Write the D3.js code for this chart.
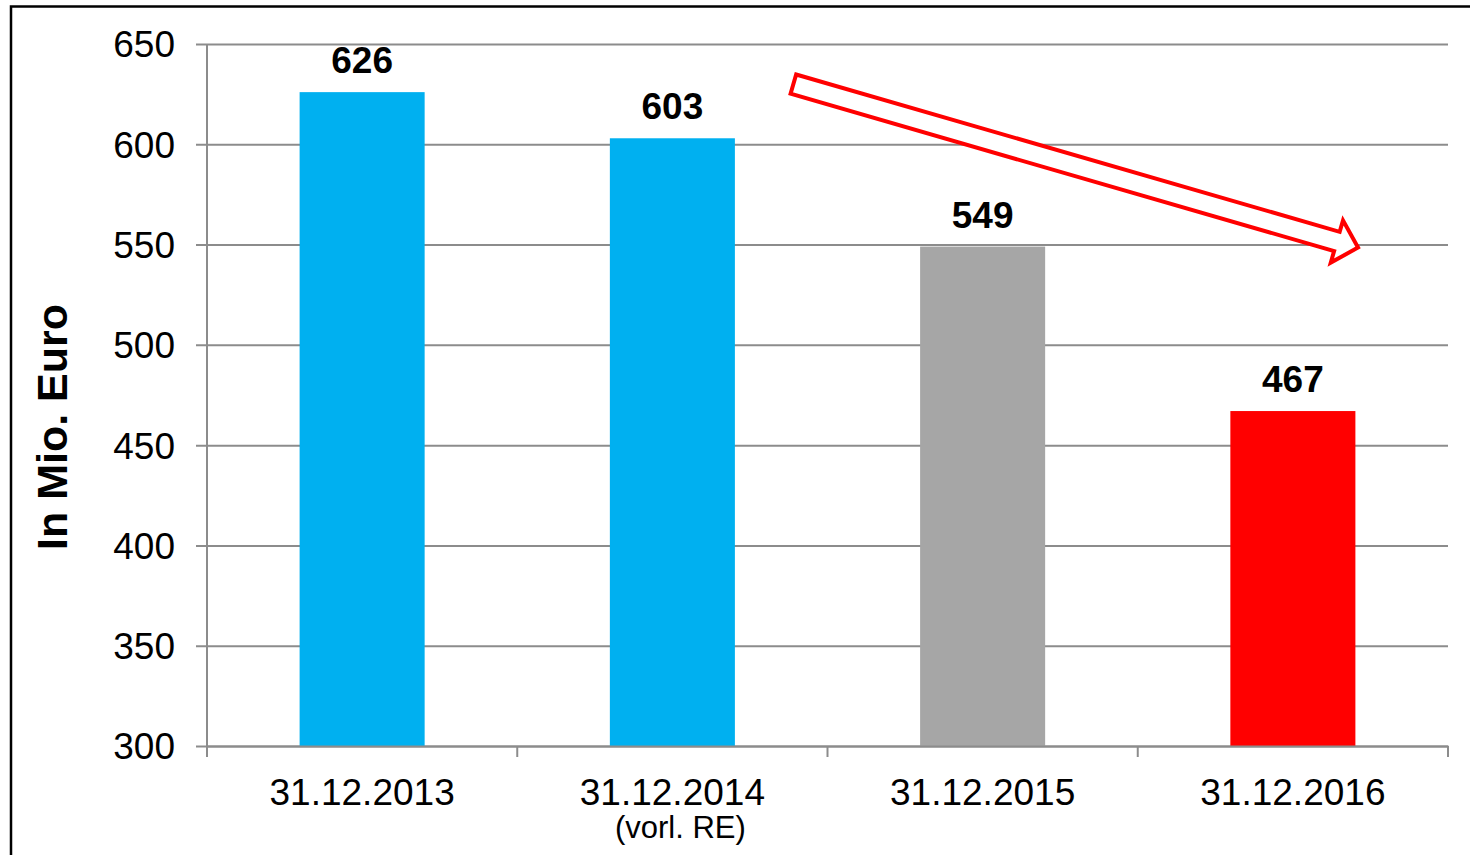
<!DOCTYPE html>
<html>
<head>
<meta charset="utf-8">
<script src="https://cdn.jsdelivr.net/npm/d3@7"></script>
<style>
  body { margin: 0; background: #fff; }
  svg { display: block; font-family: "Liberation Sans", Arial, sans-serif; }
</style>
</head>
<body>
<div id="chart"></div>
<script>
//-- Data --//
var categories = ["31.12.2013", "31.12.2014", "31.12.2015", "31.12.2016"],
    subLabels = ["", "(vorl. RE)", "", ""],
    values = [626, 603, 549, 467],
    barColors = ["#00b0f0", "#00b0f0", "#a6a6a6", "#ff0000"],
    yTicks = [300, 350, 400, 450, 500, 550, 600, 650];

// trend arrow, given as [category index, value] for tail and tip
var arrowFrom = [1.39, 630],
    arrowTo = [3.21, 548.5];

//-- Setup --//
var W = 1470, H = 855;
var margin = {top: 44, right: 22, bottom: 109, left: 207},
    width = W - margin.left - margin.right,
    height = H - margin.top - margin.bottom;

var svg = d3.select("#chart").append("svg")
  .attr("width", W)
  .attr("height", H);

// outer frame (runs off the right and bottom edge)
svg.append("rect")
  .attr("x", 11).attr("y", 6.5)
  .attr("width", W + 20).attr("height", H + 20)
  .attr("fill", "none")
  .attr("stroke", "#000")
  .attr("stroke-width", 2.5);

var g = svg.append("g")
  .attr("transform", "translate(" + margin.left + "," + margin.top + ")");

//-- Scales --//
var xScale = d3.scaleBand().domain(categories).range([0, width]).padding(0),
    yScale = d3.scaleLinear().domain([300, 650]).range([height, 0]),
    // category index -> centre of band, for the annotation arrow
    xIdx = d3.scaleLinear().domain([0, 1]).range([xScale.bandwidth() / 2, xScale.bandwidth() * 1.5]);

var barW = xScale.bandwidth() * 0.403;

//-- Gridlines + y axis --//
var yAxis = d3.axisLeft(yScale).tickValues(yTicks).tickSize(-width).tickPadding(32);
var ya = g.append("g").attr("class", "y axis").call(yAxis);
ya.select(".domain").remove();
ya.selectAll(".tick line")
  .attr("x1", -11)
  .attr("stroke", "#8c8c8c")
  .attr("stroke-width", 2);
ya.selectAll(".tick text")
  .attr("fill", "#000")
  .style("font-size", "37px")
  .attr("dy", "0.35em");

g.append("line")
  .attr("x1", 0).attr("x2", 0)
  .attr("y1", 0).attr("y2", height)
  .attr("stroke", "#8c8c8c").attr("stroke-width", 2);

//-- Bars --//
g.selectAll(".bar")
  .data(values)
  .enter().append("rect")
  .attr("class", "bar")
  .attr("x", function(d, i) { return xScale(categories[i]) + (xScale.bandwidth() - barW) / 2; })
  .attr("width", barW)
  .attr("y", function(d) { return yScale(d); })
  .attr("height", function(d) { return height - yScale(d); })
  .attr("fill", function(d, i) { return barColors[i]; });

//-- x axis --//
var xAxis = d3.axisBottom(xScale).tickSize(0).tickFormat("");
var xa = g.append("g")
  .attr("class", "x axis")
  .attr("transform", "translate(0," + height + ")")
  .call(xAxis);
xa.select(".domain").attr("stroke", "#8c8c8c").attr("stroke-width", 2);

// boundary ticks between categories
var bounds = categories.map(function(c) { return xScale(c); }).concat([width]);
xa.selectAll(".bound")
  .data(bounds)
  .enter().append("line")
  .attr("x1", function(d) { return d; }).attr("x2", function(d) { return d; })
  .attr("y1", 0).attr("y2", 11)
  .attr("stroke", "#8c8c8c").attr("stroke-width", 2);

xa.selectAll(".cat")
  .data(categories)
  .enter().append("text")
  .attr("x", function(d) { return xScale(d) + xScale.bandwidth() / 2; })
  .attr("y", 59)
  .attr("text-anchor", "middle")
  .style("font-size", "37px")
  .attr("fill", "#000")
  .text(function(d) { return d; });

xa.selectAll(".sub")
  .data(subLabels)
  .enter().append("text")
  .attr("x", function(d, i) { return xScale(categories[i]) + xScale.bandwidth() / 2 + 8; })
  .attr("y", 92)
  .attr("text-anchor", "middle")
  .style("font-size", "31px")
  .attr("fill", "#000")
  .text(function(d) { return d; });

//-- Value labels --//
g.selectAll(".val")
  .data(values)
  .enter().append("text")
  .attr("x", function(d, i) { return xScale(categories[i]) + xScale.bandwidth() / 2; })
  .attr("y", function(d) { return yScale(d) - 19; })
  .attr("text-anchor", "middle")
  .style("font-size", "37px")
  .style("font-weight", "bold")
  .attr("fill", "#000")
  .text(function(d) { return d; });

//-- Y title --//
svg.append("text")
  .attr("transform", "translate(67," + 427 + ") rotate(-90)")
  .attr("text-anchor", "middle")
  .style("font-size", "43px")
  .style("font-weight", "bold")
  .attr("fill", "#000")
  .text("In Mio. Euro");

//-- Trend arrow --//
var x0 = xIdx(arrowFrom[0]), y0 = yScale(arrowFrom[1]),
    x1 = xIdx(arrowTo[0]), y1 = yScale(arrowTo[1]);
var len = Math.hypot(x1 - x0, y1 - y0),
    ang = Math.atan2(y1 - y0, x1 - x0) * 180 / Math.PI;
var sw = 10, hw = 22, hl = 22;
var arrowPts = [[0, -sw], [len - hl, -sw], [len - hl, -hw], [len, 0], [len - hl, hw], [len - hl, sw], [0, sw]];
g.append("path")
  .attr("transform", "translate(" + x0 + "," + y0 + ") rotate(" + ang + ")")
  .attr("d", d3.line()(arrowPts) + "Z")
  .attr("fill", "#fff")
  .attr("stroke", "#ff0000")
  .attr("stroke-width", 4)
  .attr("stroke-linejoin", "miter");
</script>
</body>
</html>
